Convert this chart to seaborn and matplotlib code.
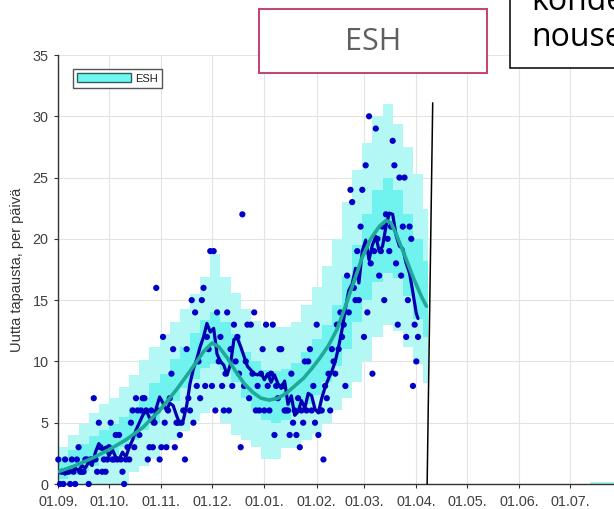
import numpy as np
import pandas as pd
import matplotlib
matplotlib.use("Agg")
import matplotlib.pyplot as plt
import seaborn as sns
from matplotlib.patches import Rectangle, Patch

# ---------------- data (x = days since 01.09.) ----------------
month_tick_days = [0, 30, 61, 91, 122, 153, 181, 212, 242, 273, 303]
month_tick_labels = ["01.09.", "01.10.", "01.11.", "01.12.", "01.01.", "01.02.",
                     "01.03.", "01.04.", "01.05.", "01.06.", "01.07."]
y_ticks = [0, 5, 10, 15, 20, 25, 30, 35]

case_values = [
    2, 0, 1, 0, 2, 1, 1,
    0, 2, 1, 0, 2, 3, 1,
    1, 1, 2, 2, 0, 2, 2,
    7, 2, 1, 5, 3, 1, 2,
    1, 2, 3, 5, 2, 2, 4,
    2, 4, 2, 1, 0, 2, 3,
    2, 5, 6, 3, 7, 6, 4,
    6, 7, 7, 6, 2, 3, 6,
    3, 5, 16, 6, 2, 3, 12,
    5, 3, 6, 7, 9, 11, 3,
    5, 5, 4, 5, 6, 2, 11,
    7, 6, 15, 5, 14, 8, 10,
    7, 15, 16, 8, 12, 11, 19,
    8, 19, 6, 14, 10, 12, 8,
    6, 9, 14, 6, 11, 8, 13,
    10, 12, 9, 3, 22, 8, 10,
    13, 7, 13, 9, 14, 6, 8,
    6, 9, 11, 6, 13, 8, 6,
    9, 13, 4, 8, 7, 11, 11,
    8, 6, 6, 6, 4, 9, 5,
    6, 4, 7, 3, 6, 5, 10,
    6, 10, 11, 6, 8, 5, 13,
    4, 6, 6, 2, 8, 7, 9,
    6, 11, 10, 9, 13, 11, 14,
    12, 13, 8, 17, 14, 24, 23,
    16, 15, 19, 15, 21, 24, 12,
    26, 14, 30, 18, 9, 19, 29,
    20, 17, 19, 21, 15, 22, 20,
    19, 21, 28, 26, 18, 13, 25,
    17, 21, 25, 12, 15, 21, 20,
    8, 13, 10, 12,
]
case_days = list(range(len(case_values)))

avg_days = [0, 2, 4, 6, 8, 10, 12, 14, 16, 18, 20, 22, 24, 26, 28, 30, 32, 34, 36, 38,
            40, 42, 44, 46, 48, 50, 52, 54, 56, 58, 60, 62, 64, 66, 68, 70, 72, 74, 76, 78,
            80, 82, 84, 86, 88, 90, 92, 94, 96, 98, 100, 102, 104, 106, 108, 110, 112, 114,
            116, 118, 120, 122, 124, 126, 128, 130, 132, 134, 136, 138, 140, 142, 144, 146,
            148, 150, 152, 154, 156, 158, 160, 162, 164, 166, 168, 170, 172, 174, 176, 178,
            180, 182, 184, 186, 188, 190, 192, 194, 196, 198, 200, 202, 204, 206, 208, 210,
            212, 213]
avg_values = [0.9, 1.0, 0.8, 1.2, 1.0, 1.3, 1.1, 1.5, 1.3, 1.8, 1.5, 2.6, 3.3, 2.8, 3.0, 2.3,
              2.8, 2.2, 2.0, 2.6, 2.2, 3.0, 3.6, 4.4, 5.0, 5.6, 6.0, 5.4, 4.9, 6.2, 7.1, 6.6,
              6.0, 6.6, 6.4, 5.6, 4.9, 5.2, 6.4, 8.2, 9.4, 10.2, 11.2, 12.0, 13.1, 12.4, 12.7,
              10.6, 10.0, 9.7, 8.9, 9.8, 11.8, 11.9, 11.2, 10.4, 9.6, 9.3, 9.0, 8.9, 9.1, 8.5,
              9.0, 8.3, 8.9, 8.2, 7.8, 8.4, 6.5, 7.2, 5.6, 5.9, 6.8, 6.2, 7.4, 7.2, 6.1, 5.8,
              7.0, 7.9, 8.6, 9.2, 10.0, 11.2, 12.6, 14.3, 15.8, 16.3, 17.6, 16.4, 19.0, 19.9,
              18.3, 19.5, 20.2, 19.0, 19.4, 21.0, 22.1, 22.0, 20.3, 19.4, 19.2, 18.0, 17.2,
              15.6, 13.9, 13.5]

model_days = [0, 10, 20, 30, 40, 50, 60, 70, 80, 86, 91, 95, 100, 105, 110, 115, 120, 125,
              130, 135, 140, 145, 150, 155, 160, 165, 170, 175, 180, 185, 190, 194, 197, 200,
              205, 210, 215, 218]
model_values = [1.0, 1.5, 2.1, 2.8, 3.6, 4.6, 6.0, 7.7, 9.6, 10.8, 11.5, 11.2, 10.3, 9.2,
                8.2, 7.5, 7.0, 6.85, 7.0, 7.4, 8.0, 8.6, 9.4, 10.3, 11.3, 12.6, 14.5, 16.5,
                18.5, 20.0, 21.0, 21.5, 21.3, 20.4, 18.7, 16.9, 15.3, 14.5]

band_days = [0, 6, 12, 18, 24, 30, 36, 42, 48, 54, 60, 66, 72, 78, 84, 90, 96, 102, 108,
             114, 120, 126, 132, 138, 144, 150, 156, 162, 168, 174, 180, 186, 192, 198, 204,
             210, 216, 219]
outer_high = [3.0, 4.0, 4.9, 5.8, 6.5, 7.0, 7.9, 8.9, 10.1, 11.2, 12.2, 13.2, 14.3, 15.5,
              16.9, 18.8, 16.9, 15.6, 14.3, 13.3, 12.8, 12.8, 12.8, 13.2, 14.6, 16.1, 17.8,
              20.0, 23.0, 25.6, 27.8, 30.0, 31.0, 29.4, 27.5, 25.3, 22.4, 22.4]
outer_low = [0, 0, 0, 0, 0, 0, 0, 1.0, 1.5, 2.0, 3.0, 3.6, 4.3, 5.1, 5.8, 6.2, 5.0, 4.0,
             3.6, 3.0, 2.0, 2.0, 2.9, 2.9, 3.6, 4.1, 5.0, 6.0, 7.0, 8.3, 10.0, 12.0, 13.0,
             12.5, 11.2, 9.8, 8.2, 8.2]
inner_high = [2.2, 2.8, 3.3, 3.9, 4.4, 4.9, 5.5, 6.3, 7.0, 8.2, 9.0, 10.2, 11.2, 12.3, 13.4,
              14.0, 13.2, 12.2, 10.8, 10.0, 9.3, 9.2, 9.4, 9.9, 10.8, 11.8, 13.0, 14.6, 17.0,
              19.5, 22.0, 24.0, 25.0, 24.0, 22.0, 20.0, 18.2, 18.2]
inner_low = [0.4, 0.7, 1.1, 1.5, 2.0, 2.4, 3.0, 3.6, 4.4, 5.0, 6.0, 6.8, 7.8, 8.6, 9.5, 9.8,
             9.3, 8.3, 7.0, 6.0, 5.2, 5.0, 5.2, 5.8, 6.5, 7.3, 8.3, 9.6, 11.0, 13.2, 15.0,
             16.5, 17.2, 16.8, 15.3, 13.5, 12.0, 12.0]

event_line_days = [218.4, 221.7]
event_line_values = [0.0, 31.1]

future_band_days = [315, 360]
future_band_high = [0.18, 0.18]

# ---------------- style ----------------
sns.set_theme(style="ticks")
plt.rcParams["font.family"] = ["Liberation Sans", "DejaVu Sans"]

C_OUTER = "#b4f8f5"
C_INNER = "#70f3ee"
C_DOT = "#0000c8"
C_AVG = "#0000b0"
C_MODEL = "#20a898"

fig = plt.figure(figsize=(6.14, 5.09), dpi=100)
W, H = 614.0, 509.0
px_per_day = 1.6888
x_max = 365
ax = fig.add_axes([58.3 / W, 25 / H, x_max * px_per_day / W, 429 / H])

ax.fill_between(band_days, outer_low, outer_high, step="post", color=C_OUTER,
                linewidth=0, zorder=1)
ax.fill_between(band_days, inner_low, inner_high, step="post", color=C_INNER,
                linewidth=0, zorder=2)
ax.fill_between(future_band_days, [0, 0], future_band_high, color="#a8f2f0",
                linewidth=0, zorder=2)

sns.scatterplot(x=case_days, y=case_values, ax=ax, color=C_DOT, s=20,
                edgecolor="none", zorder=3, clip_on=False, legend=False)
sns.lineplot(x=avg_days, y=avg_values, ax=ax, color=C_AVG, linewidth=2.3,
             estimator=None, sort=False, zorder=4, legend=False)
sns.lineplot(x=model_days, y=model_values, ax=ax, color=C_MODEL, linewidth=2.6,
             estimator=None, sort=False, zorder=5, legend=False)
ax.plot(event_line_days, event_line_values, color="black", linewidth=1.1,
        zorder=6, clip_on=False)

ax.set_xlim(0, x_max)
ax.set_ylim(0, 35)
ax.set_xticks(month_tick_days)
ax.set_xticklabels(month_tick_labels)
ax.set_yticks(y_ticks)
ax.grid(True, color="#e3e3e3", linewidth=0.8)
ax.set_axisbelow(True)
for side in ["top", "right"]:
    ax.spines[side].set_visible(False)
for side in ["left", "bottom"]:
    ax.spines[side].set_color("#333333")
    ax.spines[side].set_linewidth(1.0)
ax.tick_params(axis="both", direction="out", length=3, width=0.8, color="#333333",
               labelsize=10.4, labelcolor="#404040")
ax.tick_params(axis="x", pad=5)
ax.tick_params(axis="y", pad=4)
ax.set_xlabel("")
ax.set_ylabel("Uutta tapausta, per päivä", fontsize=10.5, color="#333333", labelpad=6)

axw_px = x_max * px_per_day
leg = ax.legend(handles=[Patch(facecolor="#6ff7f0", edgecolor="#2f6060", linewidth=1.0,
                               label="ESH")],
                loc="upper left", bbox_to_anchor=(14.4 / axw_px, 1 - 14.3 / 429),
                borderaxespad=0, fontsize=8, handlelength=4.9, handleheight=0.9,
                handletextpad=0.4, borderpad=0.35, fancybox=False, framealpha=1,
                edgecolor="#555555")
leg.get_frame().set_linewidth(1.0)
for t in leg.get_texts():
    t.set_color("#202020")

# title box "ESH"
fig.patches.append(Rectangle((259.3 / W, 1 - 73.3 / H), 228 / W, 64.3 / H,
                             transform=fig.transFigure, facecolor="white",
                             edgecolor="#c04878", linewidth=1.5, zorder=10))
fig.text(373.3 / W, 1 - 41.5 / H, "ESH", ha="center", va="center",
         fontsize=22, color="#5f5f5f", family=["Open Sans", "DejaVu Sans"], zorder=11)

# cut-off annotation box at top right
fig.patches.append(Rectangle((510 / W, 1 - 68 / H), 0.3, 0.3,
                             transform=fig.transFigure, facecolor="white",
                             edgecolor="black", linewidth=1.1, zorder=10))
fig.text(531 / W, 1 - 10 / H, "kohde", ha="left", va="baseline", fontsize=23,
         color="black", family=["Open Sans", "DejaVu Sans"], zorder=11)
fig.text(531 / W, 1 - 46 / H, "nousee", ha="left", va="baseline", fontsize=23,
         color="black", family=["Open Sans", "DejaVu Sans"], zorder=11)

fig.savefig("out.png", dpi=100)
